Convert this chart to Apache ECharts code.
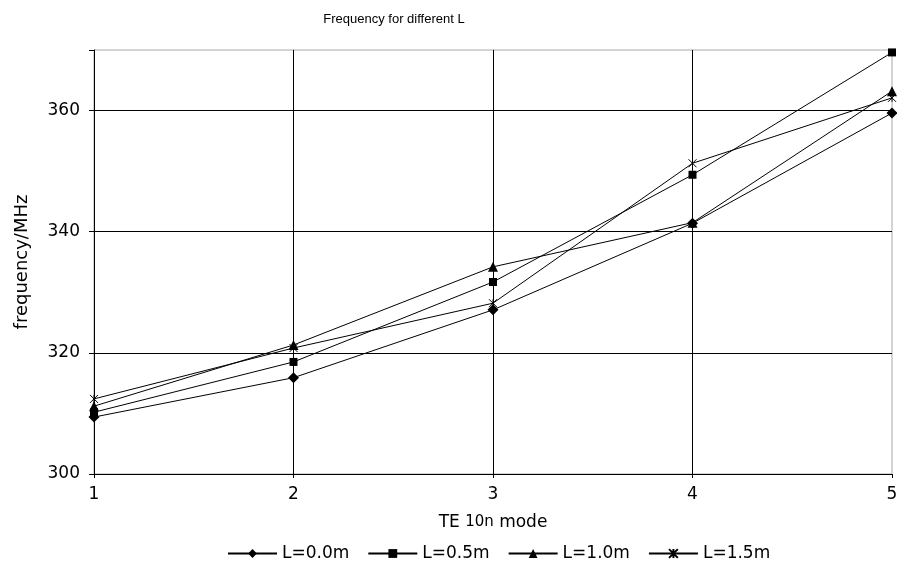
<!DOCTYPE html>
<html><head><meta charset="utf-8">
<script src="https://cdn.jsdelivr.net/npm/echarts@6/dist/echarts.min.js"></script>
<style>html,body{margin:0;padding:0;background:#fff}#c{width:897px;height:580px}</style>
</head><body><div id="c"></div>
<script>
const modes = [1, 2, 3, 4, 5];
const seriesNames = ['L=0.0m', 'L=0.5m', 'L=1.0m', 'L=1.5m'];
const L00 = [309.4, 315.9, 327.1, 341.4, 359.6];
const L05 = [310.2, 318.5, 331.7, 349.4, 369.6];
const L10 = [311.2, 321.3, 334.2, 341.5, 363.2];
const L15 = [312.4, 320.8, 328.2, 351.3, 362.1];
const yTicks = [300, 320, 340, 360];

const starPath = 'path://M0,0L10,10M10,0L0,10M5,0L5,10';
const symbols = ['diamond', 'rect', 'triangle', starPath];
const sizes = [11, 8, 10, 8];
const values = [L00, L05, L10, L15];
const font = 'DejaVu Sans, Liberation Sans, sans-serif';

const series = values.map((vals, i) => ({
  name: seriesNames[i],
  type: 'line',
  data: modes.map((m, j) => [m, vals[j]]),
  symbol: symbols[i],
  symbolSize: sizes[i],
  showAllSymbol: true,
  lineStyle: { color: '#000', width: 1 },
  itemStyle: i === 3
    ? { color: 'rgba(0,0,0,0)', borderColor: '#000', borderWidth: 1 }
    : { color: '#000', borderWidth: 0 },
  emphasis: { disabled: true },
  animation: false
}));

const chart = echarts.init(document.getElementById('c'), null, { renderer: 'canvas' });
chart.setOption({
  backgroundColor: '#fff',
  animation: false,
  title: {
    text: 'Frequency for different L',
    left: 389, top: 8, textAlign: 'center',
    textStyle: { fontFamily: 'Liberation Sans, Arial, sans-serif', fontSize: 13, fontWeight: 'normal', color: '#000' }
  },
  legend: {
    top: 540, left: 222,
    itemWidth: 49, itemHeight: 11, itemGap: 18,
    data: seriesNames,
    textStyle: { fontFamily: font, fontSize: 17, color: '#000' }
  },
  grid: {
    left: 94, right: 5, top: 50, bottom: 106,
    outerBoundsMode: 'none',
    show: true, borderColor: '#a8a8a0', borderWidth: 1, backgroundColor: '#fff'
  },
  xAxis: {
    type: 'value', min: 1, max: 5, interval: 1,
    name: '{a|TE }{b|10n}{a| mode}', nameLocation: 'middle', nameGap: 40,
    nameTextStyle: { rich: { a: { fontFamily: font, fontSize: 17, color: '#000' }, b: { fontFamily: font, fontSize: 15, color: '#000' } } },
    axisLine: { show: true, lineStyle: { color: '#000', width: 1 } },
    axisTick: { show: true, length: 4, lineStyle: { color: '#000' } },
    axisLabel: { fontFamily: font, fontSize: 17, color: '#000', margin: 12 },
    splitLine: { show: true, showMinLine: false, showMaxLine: false, lineStyle: { color: '#000', width: 1 } }
  },
  yAxis: {
    type: 'value', min: 300, max: 370, interval: 20,
    name: 'frequency/MHz', nameLocation: 'middle', nameGap: 63,
    nameTextStyle: { fontFamily: font, fontSize: 18, color: '#000' },
    axisLine: { show: true, lineStyle: { color: '#000', width: 1 } },
    axisTick: { show: true, length: 5, lineStyle: { color: '#000' } },
    axisLabel: { fontFamily: font, fontSize: 17, color: '#000', margin: 14,
      formatter: v => (yTicks.indexOf(v) >= 0 ? String(v) : '') },
    splitLine: { show: true, showMinLine: false, showMaxLine: false, lineStyle: { color: '#000', width: 1 } }
  },
  series: series
});
</script></body></html>
